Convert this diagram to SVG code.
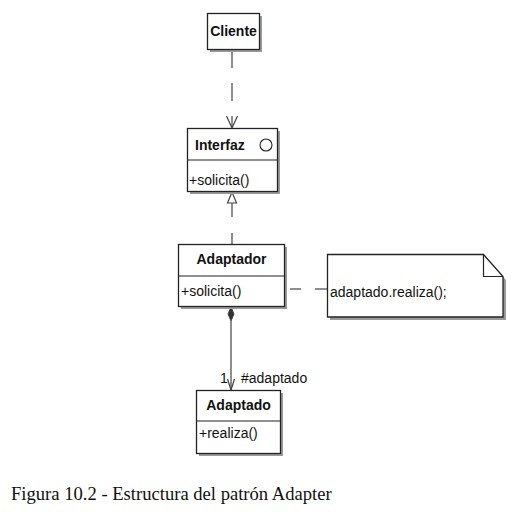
<svg xmlns="http://www.w3.org/2000/svg" width="520" height="512" viewBox="0 0 520 512">
<style>
.box{fill:#fff;stroke:#222;stroke-width:1.3}
.sh{fill:#9a9a9a}
.div{stroke:#222;stroke-width:1.1}
.b{font-family:"Liberation Sans",Arial,sans-serif;font-weight:bold;font-size:14px;fill:#111}
.t{font-family:"Liberation Sans",Arial,sans-serif;font-size:14px;fill:#111}
.ln{stroke:#444;stroke-width:1.2;fill:none}
.cap{font-family:"Liberation Serif","Times New Roman",serif;font-size:18.6px;fill:#111}
</style>
<rect width="520" height="512" fill="#fff"/>
<g id="connectors">
  <line class="ln" x1="232" y1="50" x2="232" y2="127" stroke-dasharray="18,15"/>
  <polyline class="ln" points="226.5,116 232,128 237.5,116"/>
  <line class="ln" x1="232" y1="203" x2="232" y2="217"/>
  <line class="ln" x1="232" y1="233" x2="232" y2="244"/>
  <polygon points="232,192 227.5,203 236.5,203" fill="#fff" stroke="#444" stroke-width="1.2"/>
  <circle cx="280.5" cy="288.5" r="2.2" fill="#fff" stroke="#444" stroke-width="1.1"/>
  <line class="ln" x1="290" y1="289" x2="301" y2="289"/>
  <line class="ln" x1="315" y1="289" x2="327" y2="289"/>
  <polygon points="231,307 234,314 231,321 228,314" fill="#333" stroke="#333" stroke-width="0.8"/>
  <line class="ln" x1="231" y1="321" x2="231" y2="390"/>
  <polyline class="ln" points="227.5,379 231,390 234.5,379"/>
  <text class="t" x="220" y="383">1</text>
  <text class="t" x="241" y="383">#adaptado</text>
</g>
<g id="cliente">
  <rect class="sh" x="210" y="16" width="52" height="36"/>
  <rect class="box" x="207.5" y="13.5" width="52" height="36"/>
  <text class="b" x="233.5" y="36" text-anchor="middle">Cliente</text>
</g>
<g id="interfaz">
  <rect class="sh" x="190" y="131" width="90" height="63"/>
  <rect class="box" x="187.5" y="128.5" width="90" height="63"/>
  <line class="div" x1="187.5" y1="160" x2="277.5" y2="160"/>
  <text class="b" x="195" y="150">Interfaz</text>
  <circle cx="266" cy="145" r="6" fill="none" stroke="#222" stroke-width="1.1"/>
  <text class="t" x="189" y="185">+solicita()</text>
</g>
<g id="adaptador">
  <rect class="sh" x="181" y="247" width="106" height="62"/>
  <rect class="box" x="178.5" y="244.5" width="106" height="62"/>
  <line class="div" x1="178.5" y1="276" x2="284.5" y2="276"/>
  <text class="b" x="231.5" y="264" text-anchor="middle">Adaptador</text>
  <text class="t" x="181" y="296">+solicita()</text>
</g>
<g id="nota">
  <path class="sh" d="M330,257 H486 L506,280 V320 H330 Z"/>
  <path class="box" d="M327.5,254.5 H483.5 L503,276.5 V317 H327.5 Z"/>
  <polyline points="483.5,254.5 483.5,276.5 503,276.5" fill="none" stroke="#222" stroke-width="1.2"/>
  <text class="t" x="330" y="297">adaptado.realiza();</text>
</g>
<g id="adaptado">
  <rect class="sh" x="199" y="393" width="84" height="63"/>
  <rect class="box" x="196.5" y="390.5" width="84" height="63"/>
  <line class="div" x1="196.5" y1="421" x2="280.5" y2="421"/>
  <text class="b" x="238.5" y="410" text-anchor="middle">Adaptado</text>
  <text class="t" x="199" y="438">+realiza()</text>
</g>
<text class="cap" x="11" y="500">Figura 10.2 - Estructura del patrón Adapter</text>
</svg>
